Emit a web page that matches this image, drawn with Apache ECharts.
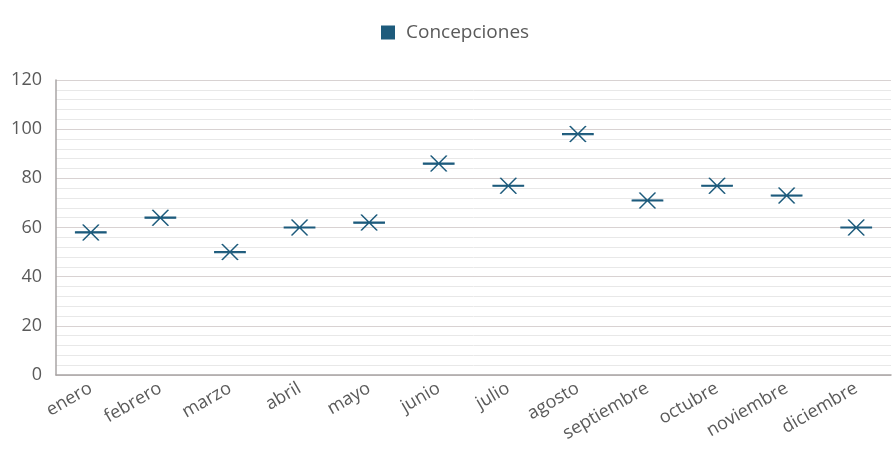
<!DOCTYPE html>
<html>
<head>
<meta charset="utf-8">
<script src="https://cdn.jsdelivr.net/npm/echarts@6/dist/echarts.min.js"></script>
<style>
  html, body { margin: 0; padding: 0; background: #ffffff; }
  #chart { width: 892px; height: 470px; }
</style>
</head>
<body>
<div id="chart"></div>
<script>
// Monthly conception counts
const months = ['enero', 'febrero', 'marzo', 'abril', 'mayo', 'junio', 'julio', 'agosto', 'septiembre', 'octubre', 'noviembre', 'diciembre'];
const concepciones = [58, 64, 50, 60, 62, 86, 77, 98, 71, 77, 73, 60];
const seriesName = 'Concepciones';

const chart = echarts.init(document.getElementById('chart'), null, { renderer: 'canvas' });

// Filled horizontal dash plus a stroked X across it
const markerPath = 'path://M0,7.4 L30,7.4 L30,8.6 L0,8.6 Z M7,0 L23,16 M7,16 L23,0';
const markColor = '#1d5b7c';

chart.setOption({
  animation: false,
  textStyle: { fontFamily: 'Open Sans' },
  legend: {
    top: 23,
    left: 381,
    padding: 0,
    icon: 'rect',
    itemWidth: 14,
    itemHeight: 14,
    itemGap: 8,
    textStyle: { fontSize: 19, color: '#5a5a5a', fontFamily: 'Open Sans', padding: [0, 0, 0, 6] },
    data: [{ name: seriesName, icon: 'rect', itemStyle: { color: markColor, borderWidth: 0, opacity: 1 } }]
  },
  grid: { left: 56, right: 1, top: 80, bottom: 95, containLabel: false },
  xAxis: {
    type: 'category',
    data: months,
    boundaryGap: true,
    axisLine: { show: true, lineStyle: { color: '#a8a4a4', width: 1.5 } },
    axisTick: { show: false },
    axisLabel: { rotate: 30, fontSize: 18, color: '#5a5a5a', margin: 12, interval: 0 }
  },
  yAxis: {
    type: 'value',
    min: 0,
    max: 120,
    interval: 20,
    axisLine: { show: true, lineStyle: { color: '#a8a4a4', width: 1.5 } },
    axisTick: { show: false },
    axisLabel: { fontSize: 18, color: '#5a5a5a', margin: 14 },
    splitLine: { show: true, lineStyle: { color: '#d8d2d2', width: 1.2 } },
    minorTick: { show: false, splitNumber: 5 },
    minorSplitLine: { show: true, lineStyle: { color: '#e8e8e8', width: 1 } }
  },
  series: [{
    name: seriesName,
    type: 'scatter',
    data: concepciones,
    symbol: markerPath,
    symbolSize: [30, 16],
    symbolKeepAspect: false,
    itemStyle: { color: markColor, borderColor: markColor, borderWidth: 1.3, opacity: 1 },
    emphasis: { disabled: true }
  }]
});
</script>
</body>
</html>
